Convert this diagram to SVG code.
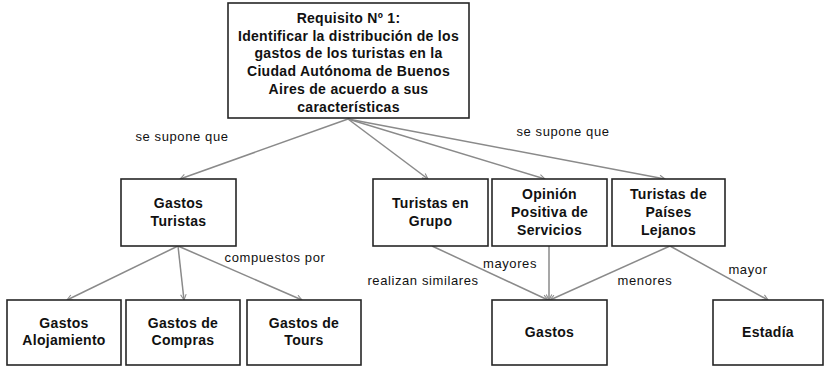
<svg xmlns="http://www.w3.org/2000/svg" width="824" height="368" viewBox="0 0 824 368">
<style>
.n rect{fill:#fff;stroke:#262626;stroke-width:1.6}
.n text{font-family:"Liberation Sans",Arial,sans-serif;font-weight:bold;font-size:14px;letter-spacing:0.3px;fill:#111;text-anchor:middle}
.c line{stroke:#8a8a8a;stroke-width:1.5;marker-end:url(#a)}
.l{font-family:"Liberation Sans",Arial,sans-serif;font-size:13px;letter-spacing:0.6px;fill:#111;text-anchor:middle}
</style>
<defs>
<marker id="a" viewBox="0 0 10 10" refX="9" refY="5" markerWidth="7" markerHeight="7" orient="auto" markerUnits="userSpaceOnUse">
<path d="M1,1 L9,5 L1,9" fill="none" stroke="#8a8a8a" stroke-width="1.5"/>
</marker>
</defs>
<rect width="824" height="368" fill="#fff"/>
<g class="c">
<line x1="348" y1="119" x2="180" y2="179"/>
<line x1="348" y1="119" x2="428" y2="179"/>
<line x1="348" y1="119" x2="545" y2="179"/>
<line x1="348" y1="119" x2="665" y2="179"/>
<line x1="178" y1="246" x2="67" y2="300"/>
<line x1="178" y1="246" x2="184" y2="300"/>
<line x1="178" y1="246" x2="302" y2="300"/>
<line x1="432" y1="246" x2="548" y2="300"/>
<line x1="549" y1="246" x2="549" y2="300"/>
<line x1="670" y1="246" x2="550" y2="300"/>
<line x1="670" y1="246" x2="768" y2="300"/>
</g>
<g id="labels">
<text class="l" x="182" y="141">se supone que</text>
<text class="l" x="563" y="136">se supone que</text>
<text class="l" x="275" y="262">compuestos por</text>
<text class="l" x="423" y="285">realizan similares</text>
<text class="l" x="510" y="268">mayores</text>
<text class="l" x="645" y="285">menores</text>
<text class="l" x="748" y="274">mayor</text>
</g>
<g id="req" class="n">
<rect x="228" y="3" width="241" height="115"/>
<text x="348.5" y="23">Requisito Nº 1:</text>
<text x="348.5" y="40.5">Identificar la distribución de los</text>
<text x="348.5" y="58">gastos de los turistas en  la</text>
<text x="348.5" y="76">Ciudad Autónoma de Buenos</text>
<text x="348.5" y="94">Aires de acuerdo a sus</text>
<text x="348.5" y="111.5">características</text>
</g>
<g id="gastosTuristas" class="n">
<rect x="121" y="179" width="115" height="67"/>
<text x="178.5" y="208">Gastos</text>
<text x="178.5" y="226">Turistas</text>
</g>
<g id="turistasGrupo" class="n">
<rect x="373" y="179" width="115" height="67"/>
<text x="430.5" y="208">Turistas en</text>
<text x="430.5" y="226">Grupo</text>
</g>
<g id="opinion" class="n">
<rect x="492" y="179" width="115" height="67"/>
<text x="549.5" y="199">Opinión</text>
<text x="549.5" y="217">Positiva de</text>
<text x="549.5" y="235">Servicios</text>
</g>
<g id="paises" class="n">
<rect x="612" y="179" width="113" height="67"/>
<text x="668.5" y="199">Turistas de</text>
<text x="668.5" y="217">Países</text>
<text x="668.5" y="235">Lejanos</text>
</g>
<g id="alojamiento" class="n">
<rect x="7" y="300" width="114" height="65"/>
<text x="64" y="328">Gastos</text>
<text x="64" y="345">Alojamiento</text>
</g>
<g id="compras" class="n">
<rect x="126" y="300" width="114" height="65"/>
<text x="183" y="328">Gastos de</text>
<text x="183" y="345">Compras</text>
</g>
<g id="tours" class="n">
<rect x="247" y="300" width="114" height="65"/>
<text x="304" y="328">Gastos de</text>
<text x="304" y="345">Tours</text>
</g>
<g id="gastos" class="n">
<rect x="492" y="300" width="115" height="65"/>
<text x="549.5" y="337">Gastos</text>
</g>
<g id="estadia" class="n">
<rect x="713" y="300" width="110" height="65"/>
<text x="768" y="337">Estadía</text>
</g>
</svg>
